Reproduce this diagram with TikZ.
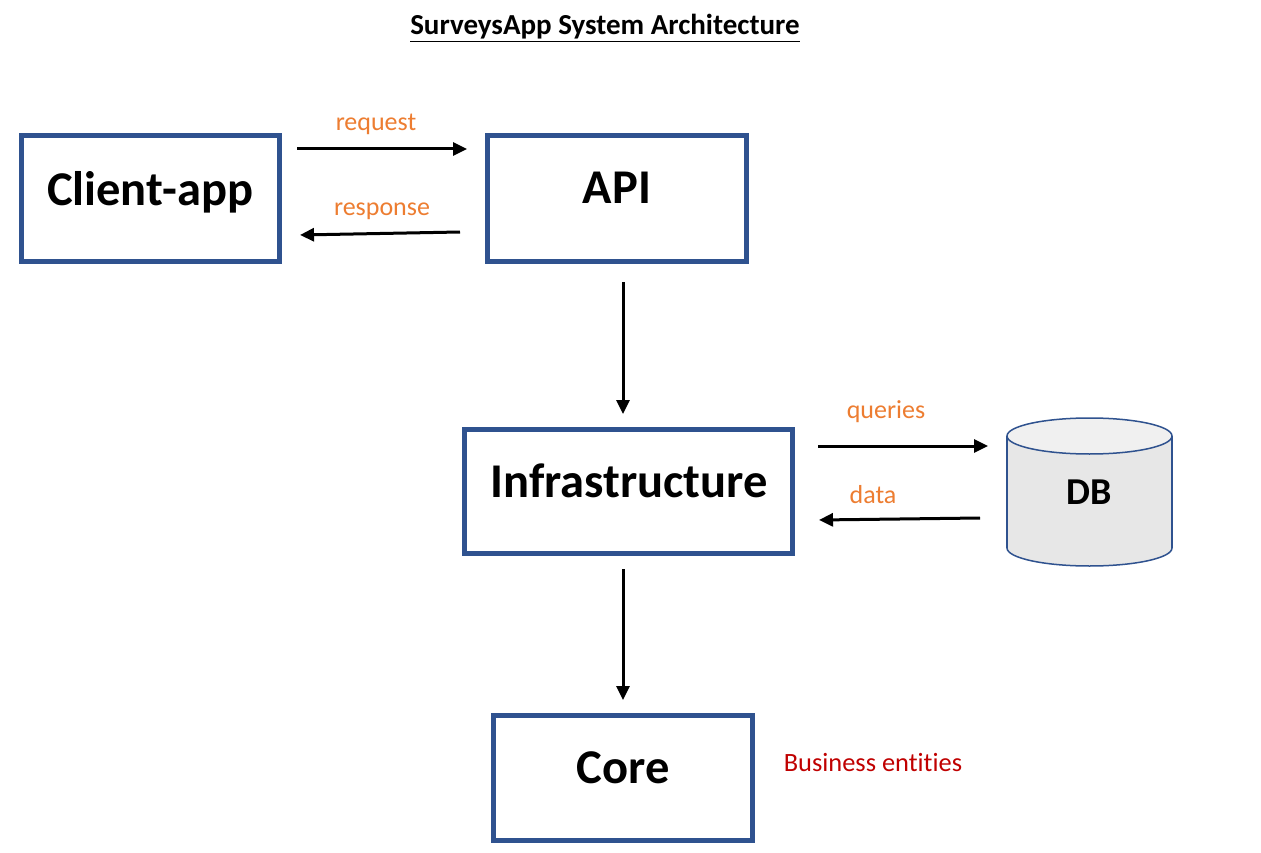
\documentclass[tikz,border=0pt]{standalone}
\usepackage{fontspec}
\setmainfont[Ligatures={NoCommon}]{Carlito}
\usetikzlibrary{arrows.meta}
\definecolor{boxblue}{HTML}{2F528F}
\definecolor{lblorange}{HTML}{ED7D31}
\definecolor{darkred}{HTML}{C00000}
\definecolor{dbbody}{HTML}{E7E7E7}
\definecolor{dbtop}{HTML}{F0F0F0}
\tikzset{
  box/.style={draw=boxblue, line width=5pt, fill=white, inner sep=0pt},
  bigtxt/.style={font=\bfseries\fontsize{48.5}{56}\selectfont, anchor=base, inner sep=0pt},
  lbl/.style={text=lblorange, font=\fontsize{26}{30}\selectfont, anchor=base, inner sep=0pt},
  flow/.style={line width=3pt, -{Triangle[length=14pt,width=13pt]}},
}
\begin{document}
\begin{tikzpicture}[x=1pt,y=-1pt]
\useasboundingbox (0,0) rectangle (1261,853);
\fill[white] (0,0) rectangle (1261,853);
% title
\node[font=\bfseries\fontsize{29}{34}\selectfont, anchor=base, inner sep=0pt] (title) at (605,35) {\underline{SurveysApp System Architecture}};
% boxes
\node[box, minimum width=258pt, minimum height=126pt] (client) at (150.5,198.5) {};
\node[box, minimum width=259pt, minimum height=126pt] (api) at (617,198.5) {};
\node[box, minimum width=328pt, minimum height=124pt] (infra) at (628.5,491.5) {};
\node[box, minimum width=259pt, minimum height=125pt] (core) at (623,778) {};
\node[bigtxt] (clienttxt) at (150,206) {Client-app};
\node[bigtxt] (apitxt) at (617,204) {API};
\node[bigtxt] (infratxt) at (629,497) {Infrastructure};
\node[bigtxt] (coretxt) at (623,783) {Core};
% DB cylinder
\filldraw[draw=boxblue, line width=1.5pt, fill=dbbody] (1089.5,548) ellipse [x radius=82.5, y radius=18];
\fill[dbbody] (1007,436) rectangle (1172,548);
\draw[boxblue, line width=1.5pt] (1007,436) -- (1007,548) (1172,436) -- (1172,548);
\filldraw[draw=boxblue, line width=1.5pt, fill=dbtop] (1089.5,436) ellipse [x radius=82.5, y radius=18];
\node[font=\bfseries\fontsize{38}{44}\selectfont, anchor=base, inner sep=0pt] (db) at (1089,504) {DB};
% connector end points
\coordinate (reqA) at (297,149);
\coordinate (reqB) at (467,149);
\coordinate (resA) at (460,232);
\coordinate (resB) at (300,235);
\coordinate (apiA) at (623,282);
\coordinate (apiB) at (623,414);
\coordinate (qA) at (818,446);
\coordinate (qB) at (988,446);
\coordinate (dA) at (980,518);
\coordinate (dB) at (819,520);
\coordinate (infA) at (623,569);
\coordinate (infB) at (623,700);
\draw[flow] (reqA) -- (reqB);
\draw[flow] (resA) -- (resB);
\draw[flow] (apiA) -- (apiB);
\draw[flow] (qA) -- (qB);
\draw[flow] (dA) -- (dB);
\draw[flow] (infA) -- (infB);
% labels
\node[lbl] (reqlbl) at (376,131) {request};
\node[lbl] (reslbl) at (382,216) {response};
\node[lbl] (qlbl) at (886,418) {queries};
\node[lbl] (dlbl) at (873,503) {data};
\node[text=darkred, font=\fontsize{26.4}{30}\selectfont, anchor=base, inner sep=0pt] (biz) at (873,771) {Business entities};
\end{tikzpicture}
\end{document}
